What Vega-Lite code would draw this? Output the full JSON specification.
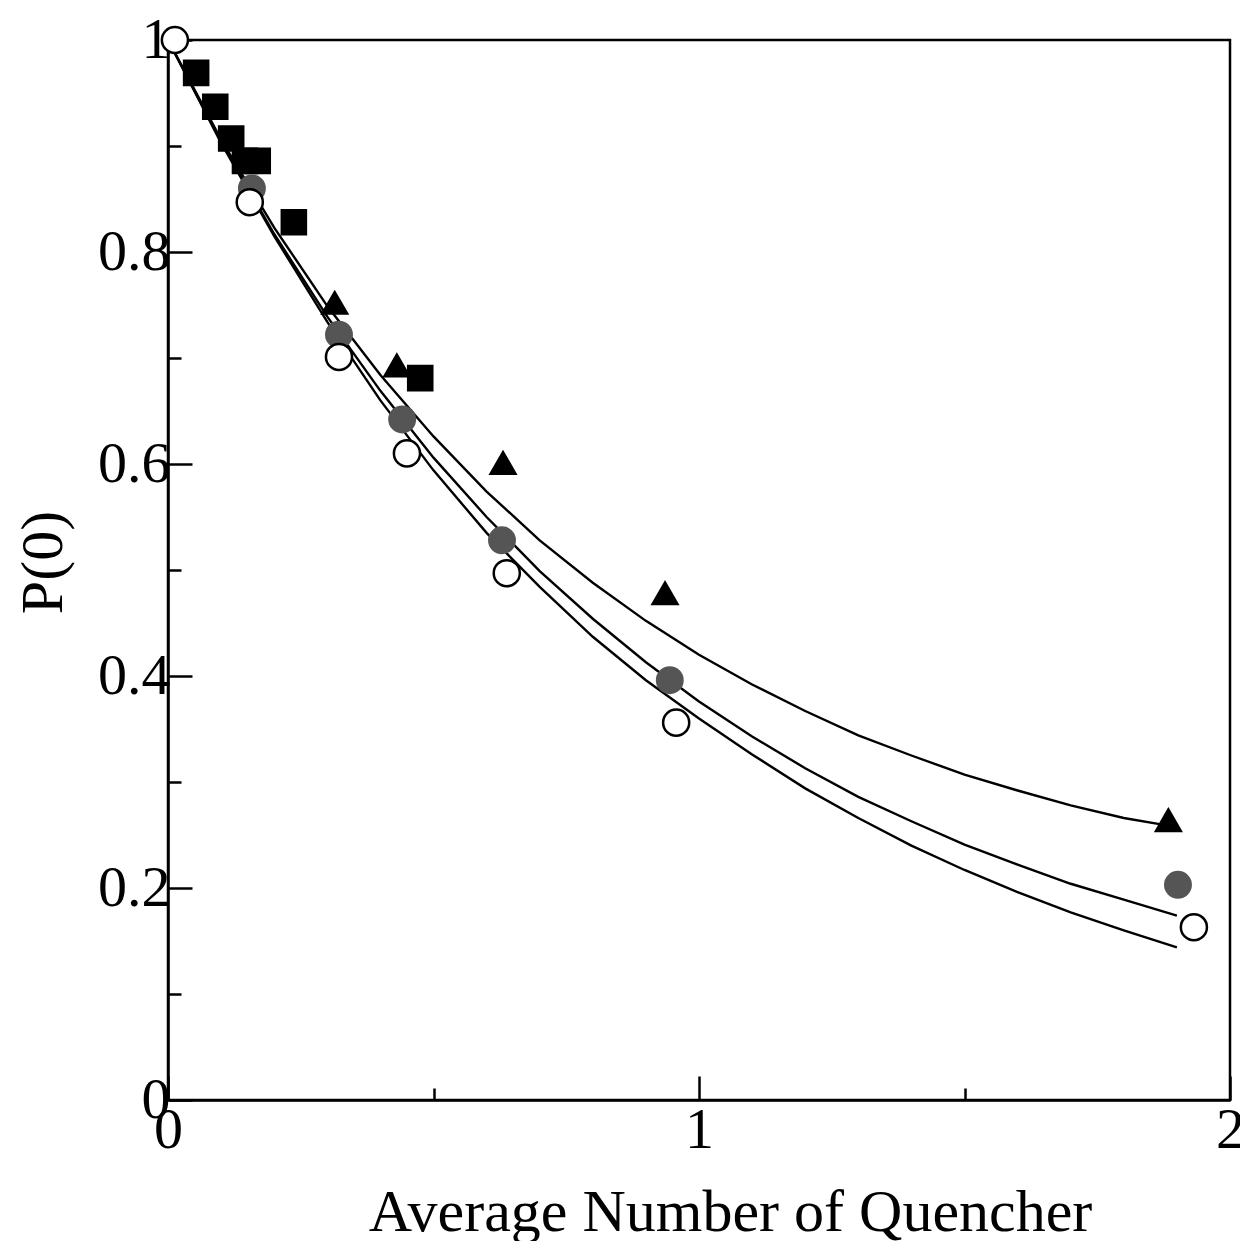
{
  "$schema": "https://vega.github.io/schema/vega-lite/v6.json",
  "width": 1062,
  "height": 1060,
  "autosize": {"type": "none"},
  "padding": {"left": 168, "top": 40, "right": 10, "bottom": 141},
  "background": "white",
  "config": {
    "view": {"stroke": "black", "strokeWidth": 2.5},
    "font": "Liberation Serif"
  },
  "datasets": {
    "curves": [
      {"curve": "upper", "n": 0, "p": 1.0},
      {"curve": "upper", "n": 0.1, "p": 0.906},
      {"curve": "upper", "n": 0.2, "p": 0.823},
      {"curve": "upper", "n": 0.3, "p": 0.749},
      {"curve": "upper", "n": 0.4, "p": 0.684},
      {"curve": "upper", "n": 0.5, "p": 0.626},
      {"curve": "upper", "n": 0.6, "p": 0.574},
      {"curve": "upper", "n": 0.7, "p": 0.528},
      {"curve": "upper", "n": 0.8, "p": 0.488},
      {"curve": "upper", "n": 0.9, "p": 0.452},
      {"curve": "upper", "n": 1.0, "p": 0.42},
      {"curve": "upper", "n": 1.1, "p": 0.392},
      {"curve": "upper", "n": 1.2, "p": 0.367},
      {"curve": "upper", "n": 1.3, "p": 0.344},
      {"curve": "upper", "n": 1.4, "p": 0.325},
      {"curve": "upper", "n": 1.5, "p": 0.307},
      {"curve": "upper", "n": 1.6, "p": 0.292},
      {"curve": "upper", "n": 1.7, "p": 0.278},
      {"curve": "upper", "n": 1.8, "p": 0.266},
      {"curve": "upper", "n": 1.87, "p": 0.26},
      {"curve": "middle", "n": 0, "p": 1.0},
      {"curve": "middle", "n": 0.1, "p": 0.904},
      {"curve": "middle", "n": 0.2, "p": 0.817},
      {"curve": "middle", "n": 0.3, "p": 0.739},
      {"curve": "middle", "n": 0.4, "p": 0.669},
      {"curve": "middle", "n": 0.5, "p": 0.606},
      {"curve": "middle", "n": 0.6, "p": 0.55},
      {"curve": "middle", "n": 0.7, "p": 0.499},
      {"curve": "middle", "n": 0.8, "p": 0.454},
      {"curve": "middle", "n": 0.9, "p": 0.413},
      {"curve": "middle", "n": 1.0, "p": 0.376},
      {"curve": "middle", "n": 1.1, "p": 0.343},
      {"curve": "middle", "n": 1.2, "p": 0.313},
      {"curve": "middle", "n": 1.3, "p": 0.286},
      {"curve": "middle", "n": 1.4, "p": 0.263},
      {"curve": "middle", "n": 1.5, "p": 0.241},
      {"curve": "middle", "n": 1.6, "p": 0.222},
      {"curve": "middle", "n": 1.7, "p": 0.204},
      {"curve": "middle", "n": 1.8, "p": 0.189},
      {"curve": "middle", "n": 1.9, "p": 0.174},
      {"curve": "lower", "n": 0, "p": 1.0},
      {"curve": "lower", "n": 0.1, "p": 0.903},
      {"curve": "lower", "n": 0.2, "p": 0.815},
      {"curve": "lower", "n": 0.3, "p": 0.734},
      {"curve": "lower", "n": 0.4, "p": 0.66},
      {"curve": "lower", "n": 0.5, "p": 0.594},
      {"curve": "lower", "n": 0.6, "p": 0.535},
      {"curve": "lower", "n": 0.7, "p": 0.484},
      {"curve": "lower", "n": 0.8, "p": 0.437},
      {"curve": "lower", "n": 0.9, "p": 0.396},
      {"curve": "lower", "n": 1.0, "p": 0.36},
      {"curve": "lower", "n": 1.1, "p": 0.326},
      {"curve": "lower", "n": 1.2, "p": 0.294},
      {"curve": "lower", "n": 1.3, "p": 0.266},
      {"curve": "lower", "n": 1.4, "p": 0.24},
      {"curve": "lower", "n": 1.5, "p": 0.217},
      {"curve": "lower", "n": 1.6, "p": 0.196},
      {"curve": "lower", "n": 1.7, "p": 0.177},
      {"curve": "lower", "n": 1.8, "p": 0.16},
      {"curve": "lower", "n": 1.9, "p": 0.144}
    ],
    "points": [
      {"series": "square", "n": 0.053, "p": 0.969},
      {"series": "square", "n": 0.089, "p": 0.937},
      {"series": "square", "n": 0.119, "p": 0.907},
      {"series": "square", "n": 0.145, "p": 0.886},
      {"series": "square", "n": 0.169, "p": 0.886},
      {"series": "square", "n": 0.237, "p": 0.828},
      {"series": "square", "n": 0.475, "p": 0.681},
      {"series": "triangle", "n": 0.314, "p": 0.752},
      {"series": "triangle", "n": 0.431, "p": 0.693},
      {"series": "triangle", "n": 0.631, "p": 0.601},
      {"series": "triangle", "n": 0.936, "p": 0.478},
      {"series": "triangle", "n": 1.884, "p": 0.264},
      {"series": "gray", "n": 0.158, "p": 0.86},
      {"series": "gray", "n": 0.322, "p": 0.722},
      {"series": "gray", "n": 0.441, "p": 0.642},
      {"series": "gray", "n": 0.629, "p": 0.528},
      {"series": "gray", "n": 0.945, "p": 0.396},
      {"series": "gray", "n": 1.902, "p": 0.203},
      {"series": "open", "n": 0.013, "p": 1.0},
      {"series": "open", "n": 0.154, "p": 0.847},
      {"series": "open", "n": 0.322, "p": 0.701},
      {"series": "open", "n": 0.45, "p": 0.61},
      {"series": "open", "n": 0.638, "p": 0.497},
      {"series": "open", "n": 0.957, "p": 0.356},
      {"series": "open", "n": 1.932, "p": 0.163}
    ]
  },
  "layer": [
    {
      "data": {"name": "curves"},
      "mark": {"type": "line", "color": "black", "clip": true},
      "encoding": {
        "x": {
          "field": "n", "type": "quantitative",
          "scale": {"domain": [0, 2], "nice": false},
          "axis": {
            "title": "Average Number of Quencher",
            "titleFont": "Liberation Serif",
            "titleFontSize": 60,
            "titleFontWeight": "normal",
            "titleColor": "black",
            "titleX": 562,
            "titleY": 130,
            "titleAlign": "center",
            "titleBaseline": "alphabetic",
            "values": [0, 0.5, 1, 1.5, 2],
            "labelExpr": "datum.value == round(datum.value) ? format(datum.value, 'd') : ''",
            "labelFont": "Liberation Serif",
            "labelFontSize": 58,
            "labelColor": "black",
            "labelFlush": false,
            "labelOverlap": false,
            "labelPadding": 25,
            "labelBaseline": "top",
            "grid": false,
            "domainColor": "black",
            "domainWidth": 2.5,
            "tickColor": "black",
            "tickWidth": 2.5,
            "tickSize": {"condition": {"test": "datum.value == round(datum.value)", "value": -24}, "value": -12}
          }
        },
        "y": {
          "field": "p", "type": "quantitative",
          "scale": {"domain": [0, 1], "nice": false},
          "axis": {
            "title": "P(0)",
            "titleFont": "Liberation Serif",
            "titleFontSize": 60,
            "titleFontWeight": "normal",
            "titleColor": "black",
            "titleAngle": -90,
            "titleX": -125,
            "titleY": 522,
            "titleAlign": "center",
            "titleBaseline": "middle",
            "values": [0, 0.1, 0.2, 0.3, 0.4, 0.5, 0.6, 0.7, 0.8, 0.9, 1],
            "labelExpr": "round(datum.value * 10) % 2 == 0 ? (datum.value == 0 ? '0' : (datum.value == 1 ? '1' : format(datum.value, '.1f'))) : ''",
            "labelFont": "Liberation Serif",
            "labelFontSize": 58,
            "labelColor": "black",
            "labelFlush": false,
            "labelOverlap": false,
            "labelPadding": 22,
            "grid": false,
            "domainColor": "black",
            "domainWidth": 2.5,
            "tickColor": "black",
            "tickWidth": 2.5,
            "tickSize": {"condition": {"test": "round(datum.value * 10) % 2 == 0", "value": -24}, "value": -13}
          }
        },
        "detail": {"field": "curve"},
        "strokeWidth": {
          "field": "curve", "type": "nominal",
          "scale": {"domain": ["upper", "middle", "lower"], "range": [2.4, 2.4, 3]},
          "legend": null
        }
      }
    },
    {
      "data": {"name": "points"},
      "mark": {"type": "point", "strokeWidth": 2.5, "opacity": 1},
      "encoding": {
        "x": {"field": "n", "type": "quantitative"},
        "y": {"field": "p", "type": "quantitative"},
        "shape": {
          "field": "series", "type": "nominal",
          "scale": {"domain": ["square", "triangle", "gray", "open"], "range": ["square", "triangle-up", "circle", "circle"]},
          "legend": null
        },
        "fill": {
          "field": "series", "type": "nominal",
          "scale": {"domain": ["square", "triangle", "gray", "open"], "range": ["black", "black", "#555555", "white"]},
          "legend": null
        },
        "stroke": {
          "field": "series", "type": "nominal",
          "scale": {"domain": ["square", "triangle", "gray", "open"], "range": ["black", "black", "#555555", "black"]},
          "legend": null
        },
        "size": {
          "field": "series", "type": "nominal",
          "scale": {"domain": ["square", "triangle", "gray", "open"], "range": [580, 680, 330, 360]},
          "legend": null
        }
      }
    }
  ]
}
